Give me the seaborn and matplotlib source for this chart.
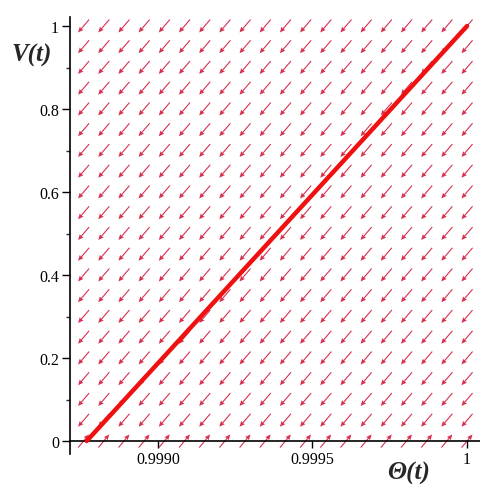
import numpy as np
import matplotlib
matplotlib.use("Agg")
import matplotlib.pyplot as plt
import seaborn as sns
from matplotlib.ticker import MultipleLocator, FixedLocator

# direction field sample grid
theta_grid = np.linspace(0.99876, 1.0, 20)
v_grid = np.linspace(0.0, 1.0, 21)

# arrow direction per row (screen orientation), bottom row points up-right
row_u = [0.64] + [-0.65] * 20
row_v = [0.77] + [-0.76] * 20

# solution curve
theta_line = [0.99877, 1.0]
v_line = [0.0, 1.0]

x_ticks = [0.9990, 0.9995, 1.0]
x_ticklabels = ["0.9990", "0.9995", "1"]
y_ticks = [0, 0.2, 0.4, 0.6, 0.8, 1]
y_ticklabels = ["0", "0.2", "0.4", "0.6", "0.8", "1"]

sns.set_style("white")
plt.rcParams["font.family"] = ["Liberation Serif", "DejaVu Serif"]

fig = plt.figure(figsize=(4.81, 4.85), dpi=100)
ax = fig.add_axes([70 / 481, 1 - 455 / 485, 410 / 481, 437 / 485])

TT, VV = np.meshgrid(theta_grid, v_grid)
U = np.repeat(np.array(row_u)[:, None], len(theta_grid), axis=1)
V = np.repeat(np.array(row_v)[:, None], len(theta_grid), axis=1)
ax.quiver(TT, VV, U, V, angles="uv", scale_units="inches", scale=1 / 0.17,
          pivot="middle", units="dots", width=1.1, headwidth=4.5,
          headlength=5, headaxislength=4.5, color="#d8304f", zorder=2)

sns.lineplot(x=theta_line, y=v_line, ax=ax, color="#f01010", linewidth=3.2,
             zorder=3)

ax.set_xlim(0.998716, 1.0000419)
ax.set_ylim(-0.0313, 1.0217)

for s in ["top", "right"]:
    ax.spines[s].set_visible(False)
ax.spines["bottom"].set_position(("data", 0))
for s in ["left", "bottom"]:
    ax.spines[s].set_color("black")
    ax.spines[s].set_linewidth(1.2)

ax.xaxis.set_major_locator(FixedLocator(x_ticks))
ax.set_xticklabels(x_ticklabels)
ax.set_yticks(y_ticks)
ax.set_yticklabels(y_ticklabels)
ax.yaxis.set_minor_locator(MultipleLocator(0.1))
ax.tick_params(axis="both", which="both", bottom=True, left=True)
ax.tick_params(axis="y", which="major", direction="out", length=6,
               width=1, labelsize=11.5, colors="black", pad=2)
ax.tick_params(axis="x", which="major", direction="out", length=5,
               width=1, labelsize=11.5, colors="black", pad=2)
ax.tick_params(axis="y", which="minor", direction="out", length=3, width=1)

fig.text(32 / 481, 1 - 55 / 485, "V(t)", fontsize=18, fontweight="bold",
         fontstyle="italic", ha="center", va="center")
fig.text(409 / 481, 1 - 473 / 485, "Θ(t)", fontsize=18, fontweight="bold",
         fontstyle="italic", ha="center", va="center")

fig.savefig("out.png", dpi=100, facecolor="white")
